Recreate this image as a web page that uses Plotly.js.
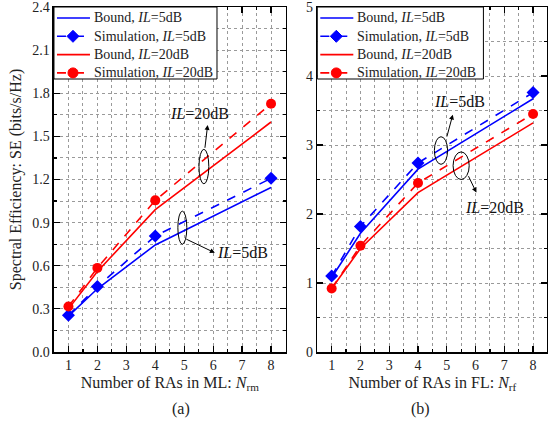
<!DOCTYPE html>
<html><head><meta charset="utf-8">
<script src="https://cdn.plot.ly/plotly-3.0.1.min.js"></script>
<style>body{margin:0;padding:0;background:#fff}#chart{width:548px;height:427px}</style>
</head><body><div id="chart"></div>
<script>
const xVals = [1, 2, 4, 8];
// (a) ML
const boundA5 = [0.25, 0.44, 0.745, 1.145];
const simA5 = [0.255, 0.455, 0.807, 1.208];
const boundA20 = [0.30, 0.56, 0.99, 1.60];
const simA20 = [0.316, 0.585, 1.055, 1.727];
// (b) FL
const boundB5 = [1.08, 1.72, 2.65, 3.67];
const simB5 = [1.10, 1.82, 2.74, 3.76];
const boundB20 = [0.92, 1.50, 2.31, 3.32];
const simB20 = [0.92, 1.54, 2.45, 3.45];
const names = ["Bound, <i>IL</i>=5dB", "Simulation, <i>IL</i>=5dB", "Bound, <i>IL</i>=20dB", "Simulation, <i>IL</i>=20dB"];
const yTicksA = [0, 0.3, 0.6, 0.9, 1.2, 1.5, 1.8, 2.1, 2.4];
const yTicksB = [0, 1, 2, 3, 4, 5];
const xTicks = [1, 2, 3, 4, 5, 6, 7, 8];

const FONT = "Liberation Serif";
const BLUE = "#0000FF", RED = "#FF0000";
const styles = [
  {color: BLUE, dash: "solid", symbol: null},
  {color: BLUE, dash: "dash", symbol: "diamond"},
  {color: RED, dash: "solid", symbol: null},
  {color: RED, dash: "dash", symbol: "circle"}
];

function traces(xa, ya, series) {
  return series.map((ys, i) => {
    const s = styles[i];
    const t = {x: xVals, y: ys, name: names[i], mode: s.symbol ? "lines+markers" : "lines",
      line: {color: s.color, width: 1.6, dash: s.dash}, xaxis: xa, yaxis: ya, showlegend: false};
    if (s.symbol) t.marker = {symbol: s.symbol, size: 10, color: s.color};
    return t;
  });
}
const data = traces("x", "y", [boundA5, simA5, boundA20, simA20])
  .concat(traces("x2", "y2", [boundB5, simB5, boundB20, simB20]));

const tickFont = {family: FONT, size: 14, color: "#222"};
const gridCommon = {
  showline: true, linecolor: "#000", linewidth: 1.5, mirror: "allticks",
  ticks: "inside", ticklen: 6, tickcolor: "#000", tickwidth: 1.2,
  showgrid: true, gridcolor: "#9a9a9a", griddash: "dot", gridwidth: 1,
  zeroline: false, tickfont: tickFont, automargin: false, ticklabeloverflow: "allow"
};
function xAxis(domain, anchor, titleText) {
  return Object.assign({}, gridCommon, {
    domain: domain, anchor: anchor, range: [0.5, 8.5], tickvals: xTicks,
    minor: {dtick: 0.5, tick0: 0.5, ticks: "inside", ticklen: 3, tickcolor: "#000", showgrid: true, gridcolor: "#9a9a9a", griddash: "dot"},
    title: {text: titleText, font: {family: FONT, size: 16, color: "#222"}, standoff: 4}
  });
}
function yAxis(anchor, range, ticks, minorStep, fmt, titleText) {
  return Object.assign({}, gridCommon, {
    anchor: anchor, range: range, tickvals: ticks, tickformat: fmt, domain: [0, 1],
    minor: {dtick: minorStep, ticks: "inside", ticklen: 3, tickcolor: "#000", showgrid: true, gridcolor: "#9a9a9a", griddash: "dot"},
    title: {text: titleText, font: {family: FONT, size: 16, color: "#222"}, standoff: 6}
  });
}

const annFont = {family: FONT, size: 16, color: "#111"};
function arrow(xr, yr, x, y, ax, ay) {
  return {xref: xr, yref: yr, axref: xr, ayref: yr, x: x, y: y, ax: ax, ay: ay, text: "", showarrow: true, arrowhead: 2, arrowsize: 1, arrowwidth: 1, arrowcolor: "#000"};
}
function label(xr, yr, x, y, txt, xanchor) {
  return {xref: xr, yref: yr, x: x, y: y, text: txt, showarrow: false, font: annFont, xanchor: xanchor || "center", yanchor: "middle"};
}

// hand-drawn legend boxes (pixel offsets inside each subplot)
const PLOT_H = 345;
function legend(xa, ya, W, boxW) {
  const xr = xa + " domain", yr = ya + " domain";
  const fx = p => p / W, fy = p => 1 - p / PLOT_H;
  const shapes = [{type: "rect", xref: xr, yref: yr, x0: 0, x1: fx(boxW), y0: fy(72), y1: 1,
    fillcolor: "#fff", line: {color: "#000", width: 1}, layer: "above"}];
  const anns = [];
  names.forEach((n, i) => {
    const s = styles[i];
    const cy = 11 + i * 18.3;
    shapes.push({type: "line", xref: xr, yref: yr, x0: fx(3), x1: fx(36), y0: fy(cy), y1: fy(cy),
      line: {color: s.color, width: 1.6, dash: s.dash}});
    if (s.symbol === "diamond") {
      shapes.push({type: "path", xref: xr, yref: yr, xsizemode: "pixel", ysizemode: "pixel",
        xanchor: fx(19), yanchor: fy(cy), path: "M0,-6 L6,0 L0,6 L-6,0 Z",
        fillcolor: s.color, line: {color: s.color, width: 1}});
    } else if (s.symbol === "circle") {
      shapes.push({type: "circle", xref: xr, yref: yr, xsizemode: "pixel", ysizemode: "pixel",
        xanchor: fx(19), yanchor: fy(cy), x0: -5, x1: 5, y0: -5, y1: 5,
        fillcolor: s.color, line: {color: s.color, width: 1}});
    }
    anns.push({xref: xr, yref: yr, x: fx(38), y: fy(cy), text: n, showarrow: false,
      xanchor: "left", yanchor: "middle", font: {family: FONT, size: 14, color: "#222"}});
  });
  return {shapes, anns};
}
const legA = legend("x", "y", 231.5, 163);
const legB = legend("x2", "y2", 230, 166);

const layout = {
  width: 548, height: 427,
  margin: {l: 0, r: 0, t: 7, b: 75},
  paper_bgcolor: "#fff", plot_bgcolor: "#fff",
  font: {family: FONT, color: "#222"},
  showlegend: false,
  xaxis: xAxis([0.0985, 0.521], "y", "Number of RAs in ML: <i>N</i><sub>rm</sub>"),
  yaxis: yAxis("x", [0, 2.4], yTicksA, 0.15, ".1f", "Spectral Efficiency: SE (bits/s/Hz)"),
  xaxis2: xAxis([0.579, 0.999], "y2", "Number of RAs in FL: <i>N</i><sub>rf</sub>"),
  yaxis2: yAxis("x2", [0, 5], yTicksB, 0.5, "d", ""),
  shapes: [
    {type: "circle", xref: "x", yref: "y", x0: 5.51, x1: 5.85, y0: 1.17, y1: 1.41, line: {color: "#000", width: 1}},
    {type: "circle", xref: "x", yref: "y", x0: 4.78, x1: 5.09, y0: 0.75, y1: 0.98, line: {color: "#000", width: 1}},
    {type: "circle", xref: "x2", yref: "y2", x0: 4.57, x1: 5.03, y0: 2.72, y1: 3.12, line: {color: "#000", width: 1}},
    {type: "circle", xref: "x2", yref: "y2", x0: 5.22, x1: 5.78, y0: 2.50, y1: 2.90, line: {color: "#000", width: 1}}
  ].concat(legA.shapes, legB.shapes),
  annotations: [
    arrow("x", "y", 5.81, 1.58, 5.71, 1.41),
    label("x", "y", 5.54, 1.66, "<i>IL</i>=20dB"),
    arrow("x", "y", 6.06, 0.69, 5.02, 0.79),
    label("x", "y", 6.06, 0.69, "<i>IL</i>=5dB", "left"),
    arrow("x2", "y2", 5.21, 3.44, 4.99, 3.10),
    label("x2", "y2", 5.45, 3.63, "<i>IL</i>=5dB"),
    arrow("x2", "y2", 6.03, 2.31, 5.73, 2.57),
    label("x2", "y2", 6.67, 2.09, "<i>IL</i>=20dB"),
    {xref: "paper", yref: "paper", x: 0.31, y: -0.165, text: "(a)", showarrow: false, font: {family: FONT, size: 16, color: "#222"}, yanchor: "middle"},
    {xref: "paper", yref: "paper", x: 0.789, y: -0.165, text: "(b)", showarrow: false, font: {family: FONT, size: 16, color: "#222"}, yanchor: "middle"}
  ].concat(legA.anns, legB.anns)
};
Plotly.newPlot("chart", data, layout, {displayModeBar: false, staticPlot: true});
</script></body></html>
